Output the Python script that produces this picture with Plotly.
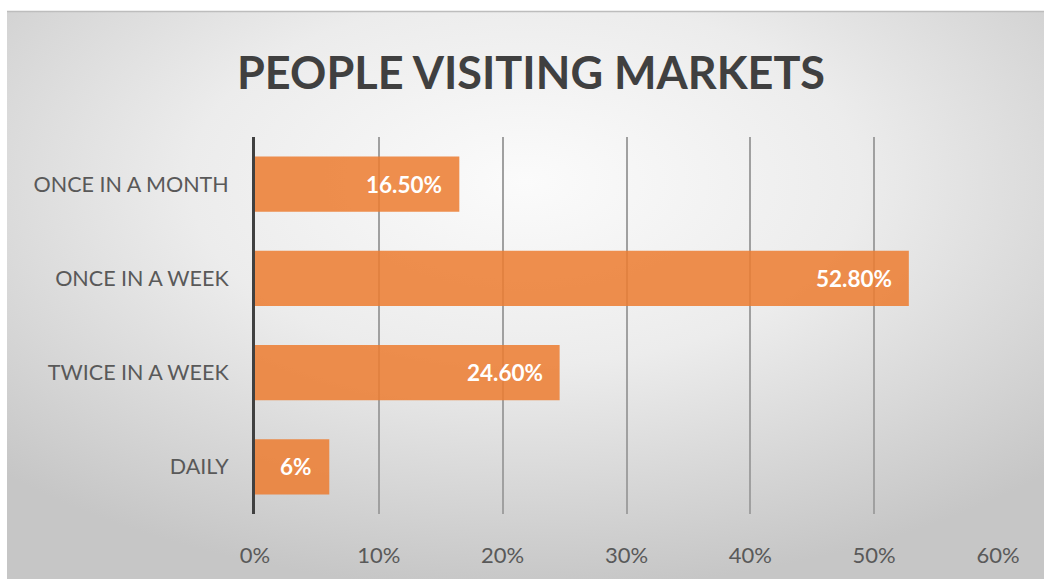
import base64
import plotly.graph_objects as go

# Survey results: how often people visit markets
frequency = ["ONCE IN A MONTH", "ONCE IN A WEEK", "TWICE IN A WEEK", "DAILY"]
share = [0.165, 0.528, 0.246, 0.06]
share_labels = ["16.50%", "52.80%", "24.60%", "6%"]
tick_values = [0, 0.1, 0.2, 0.3, 0.4, 0.5, 0.6]
tick_labels = ["0%", "10%", "20%", "30%", "40%", "50%", "60%"]

W, H = 1044, 579
ML, MR, MT, MB = 255, 46, 137, 65
pw, ph = W - ML - MR, H - MT - MB

# soft radial backdrop for the chart card
svg = (
    '<svg xmlns="http://www.w3.org/2000/svg" width="1037" height="568" '
    'preserveAspectRatio="none" viewBox="0 0 1037 568">'
    '<defs><radialGradient id="g" cx="0.5" cy="0.3" r="0.72" fx="0.5" fy="0.3">'
    '<stop offset="0" stop-color="#fbfbfb"/>'
    '<stop offset="0.45" stop-color="#ececec"/>'
    '<stop offset="1" stop-color="#c6c6c6"/>'
    '</radialGradient></defs>'
    '<rect width="1037" height="568" fill="url(#g)"/></svg>'
)
bg_src = "data:image/svg+xml;base64," + base64.b64encode(svg.encode()).decode()

def px_to_paper_x(px):
    return (px - ML) / pw

def px_to_paper_y(py):
    return (H - MB - py) / ph

fig = go.Figure()
fig.add_trace(go.Bar(
    x=share,
    y=frequency,
    orientation="h",
    marker=dict(color="rgba(236,125,49,0.86)", line=dict(width=0)),
    hoverinfo="skip",
))

annotations = [
    dict(x=v, y=c, text=f"<b>{t}</b>", xref="x", yref="y",
         xanchor="right", yanchor="middle", xshift=-15, showarrow=False,
         font=dict(family="Lato", size=22.5, color="white"))
    for c, v, t in zip(frequency, share, share_labels)
]
annotations.append(dict(
    x=px_to_paper_x(531), y=px_to_paper_y(72), xref="paper", yref="paper",
    text="<b>PEOPLE VISITING MARKETS</b>", showarrow=False,
    xanchor="center", yanchor="middle",
    font=dict(family="Lato", size=45, color="#404040"),
))

fig.update_layout(
    width=W, height=H,
    margin=dict(l=ML, r=MR, t=MT, b=MB, pad=0),
    paper_bgcolor="white",
    plot_bgcolor="rgba(0,0,0,0)",
    bargap=0.415,
    showlegend=False,
    annotations=annotations,
    images=[dict(
        source=bg_src, xref="paper", yref="paper",
        x=px_to_paper_x(7), y=px_to_paper_y(11),
        sizex=px_to_paper_x(W) - px_to_paper_x(7),
        sizey=px_to_paper_y(11) - px_to_paper_y(H),
        xanchor="left", yanchor="top", sizing="stretch", layer="below",
    )],
    shapes=[dict(
        type="line", xref="paper", yref="paper",
        x0=px_to_paper_x(7), x1=px_to_paper_x(W),
        y0=px_to_paper_y(11.5), y1=px_to_paper_y(11.5),
        line=dict(color="#bdbdbd", width=1.5), layer="below",
    )],
    xaxis=dict(
        range=[0, 0.6],
        tickvals=tick_values, ticktext=tick_labels,
        showgrid=True, gridcolor="#a0a0a0", gridwidth=1.6,
        zeroline=False, showline=False, ticks="",
        ticklabelstandoff=26,
        tickfont=dict(family="Lato", size=22, color="#595959"),
        fixedrange=True,
    ),
    yaxis=dict(
        categoryorder="array", categoryarray=frequency,
        autorange="reversed",
        showgrid=False, zeroline=False,
        showline=True, linecolor="#404040", linewidth=3,
        ticks="", ticklabelstandoff=19,
        tickfont=dict(family="Lato", size=21.5, color="#595959"),
        fixedrange=True,
    ),
)

fig.write_html("out.html")
